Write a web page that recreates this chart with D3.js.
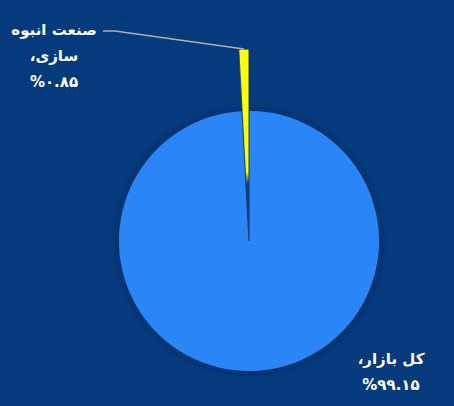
<!DOCTYPE html>
<html><head><meta charset="utf-8">
<script src="https://cdn.jsdelivr.net/npm/d3@7"></script>
<style>
html,body{margin:0;padding:0;background:#053a7d;}
svg{display:block;}
</style></head>
<body>
<script>
const categories = ["کل بازار", "صنعت انبوه سازی"];
const values = [99.15, 0.85];
const labelLines = [["کل بازار،", "%۹۹.۱۵"], ["صنعت انبوه", "سازی،", "%۰.۸۵"]];
const colors = ["#2a86f7", "#ffff00"];

const W = 454, H = 406;
const cx = 249, cy = 241, R = 130, Rbig = 192;

const svg = d3.select("body").append("svg").attr("width", W).attr("height", H);
svg.append("rect").attr("width", W).attr("height", H).attr("fill", "#053a7d");

const defs = svg.append("defs");
const f = defs.append("filter").attr("id", "sh").attr("x", "-20%").attr("y", "-20%").attr("width", "140%").attr("height", "140%");
f.append("feDropShadow").attr("dx", 0).attr("dy", 0).attr("stdDeviation", 4).attr("flood-color", "#001a40").attr("flood-opacity", 0.6);

const rg = defs.append("radialGradient").attr("id", "yg").attr("gradientUnits", "userSpaceOnUse")
  .attr("cx", 0).attr("cy", 0).attr("r", Rbig);
rg.append("stop").attr("offset", 0).attr("stop-color", "#0a3570");
rg.append("stop").attr("offset", 0.3).attr("stop-color", "#17407a");
rg.append("stop").attr("offset", 0.36).attr("stop-color", "#ffff00");
rg.append("stop").attr("offset", 1).attr("stop-color", "#ffff00");

const pie = d3.pie().sort(null).value(d => d)(values);
const g = svg.append("g").attr("transform", `translate(${cx},${cy})`);

const arcMain = d3.arc().innerRadius(0).outerRadius(R);
const arcBig = d3.arc().innerRadius(0).outerRadius(Rbig);

g.append("path").attr("d", arcMain(pie[0])).attr("fill", colors[0]).attr("filter", "url(#sh)");
g.append("path").attr("d", arcBig(pie[1])).attr("fill", "url(#yg)")
  .attr("stroke", "#0d3a78").attr("stroke-width", 1.2).attr("stroke-opacity", 0.8);

// leader line for small slice
const mid1 = (pie[1].startAngle + pie[1].endAngle) / 2;
const p0 = [Rbig * Math.sin(mid1), -Rbig * Math.cos(mid1)];
g.append("polyline")
  .attr("points", [[p0[0], p0[1]], [115 - cx, 31 - cy], [103 - cx, 31 - cy]].map(p => p.join(",")).join(" "))
  .attr("fill", "none").attr("stroke", "#b0b0b0").attr("stroke-width", 1.5);

const font = "'DejaVu Sans', sans-serif";
function drawLabel(lines, x, y0, dy) {
  lines.forEach((t, i) => {
    const isNum = /%/.test(t);
    svg.append("text").attr("x", x).attr("y", y0 + i * dy)
      .attr("text-anchor", "middle")
      .attr("direction", isNum ? "ltr" : "rtl")
      .attr("fill", "#ffffff").attr("font-family", font)
      .attr("font-weight", "bold").attr("font-size", 15)
      .text(t);
  });
}
drawLabel(labelLines[1], 54, 35, 26);
drawLabel(labelLines[0], 391, 364, 26);
</script>
</body></html>
